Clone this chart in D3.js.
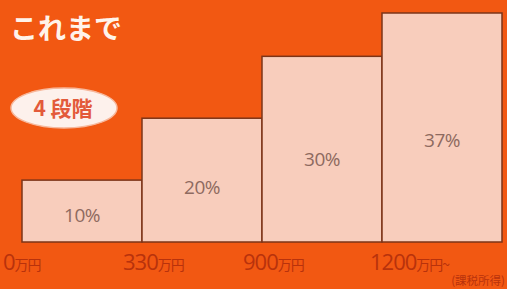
<!DOCTYPE html>
<html>
<head>
<meta charset="utf-8">
<script src="https://d3js.org/d3.v7.min.js"></script>
<style>
  body { margin: 0; background: #f25812; }
  svg { display: block; }
</style>
</head>
<body>
<svg id="chart"></svg>
<script>
// tax brackets (taxable income) and rates
const brackets = ["0", "330", "900", "1200"];
const rates = [10, 20, 30, 37];
const tickUnits = ["万円", "万円", "万円", "万円~"];

const width = 507, height = 289;
const svg = d3.select("#chart").attr("width", width).attr("height", height);

svg.append("rect").attr("width", width).attr("height", height).attr("fill", "#f25812");

const x = d3.scaleBand().domain(brackets).range([22, 502]).padding(0);
const y = d3.scaleLinear().domain([0, 37]).range([242, 13]);

// title
svg.append("text")
  .attr("x", 10).attr("y", 39)
  .attr("font-family", "Noto Sans CJK JP").attr("font-weight", "bold")
  .attr("font-size", 28).attr("fill", "#fff3ea")
  .text("これまで");

// badge
svg.append("ellipse")
  .attr("cx", 64).attr("cy", 108).attr("rx", 53).attr("ry", 20)
  .attr("fill", "#fdf1ec").attr("stroke", "#f7b89c").attr("stroke-width", 1.5);
svg.append("text")
  .attr("x", 63).attr("y", 116).attr("text-anchor", "middle")
  .attr("font-family", "Noto Sans CJK JP").attr("font-weight", "bold")
  .attr("font-size", 21).attr("fill", "#e35a3a")
  .text("4 段階");

// bars
svg.selectAll("rect.bar").data(brackets).join("rect")
  .attr("class", "bar")
  .attr("x", d => x(d))
  .attr("y", (d, i) => y(rates[i]))
  .attr("width", x.bandwidth())
  .attr("height", (d, i) => y(0) - y(rates[i]))
  .attr("fill", "#f8cdbc")
  .attr("stroke", "#7c3418").attr("stroke-width", 1.5);

// rate labels
svg.selectAll("text.rate").data(brackets).join("text")
  .attr("class", "rate")
  .attr("x", d => x(d) + x.bandwidth() / 2)
  .attr("y", (d, i) => y(rates[i] * 0.45) + 8)
  .attr("text-anchor", "middle")
  .attr("font-family", "Open Sans").attr("font-size", 19)
  .attr("letter-spacing", -0.5)
  .attr("fill", "#8e6a60")
  .text((d, i) => rates[i] + "%");

// x ticks
const ticks = svg.selectAll("text.tick").data(brackets).join("text")
  .attr("class", "tick")
  .attr("x", d => x(d) - (d === "1200" ? 12 : 19))
  .attr("y", 270)
  .attr("font-family", "Open Sans").attr("font-size", 22)
  .attr("fill", "#b8320c").attr("letter-spacing", -1);
ticks.append("tspan").text(d => d);
ticks.append("tspan").attr("font-size", 14).attr("font-family", "Noto Sans CJK JP")
  .attr("letter-spacing", -1)
  .text((d, i) => tickUnits[i]);

svg.append("text")
  .attr("x", 505).attr("y", 285).attr("text-anchor", "end")
  .attr("font-family", "Noto Sans CJK JP").attr("font-size", 11.5)
  .attr("fill", "#b8320c")
  .text("(課税所得)");
</script>
</body>
</html>
